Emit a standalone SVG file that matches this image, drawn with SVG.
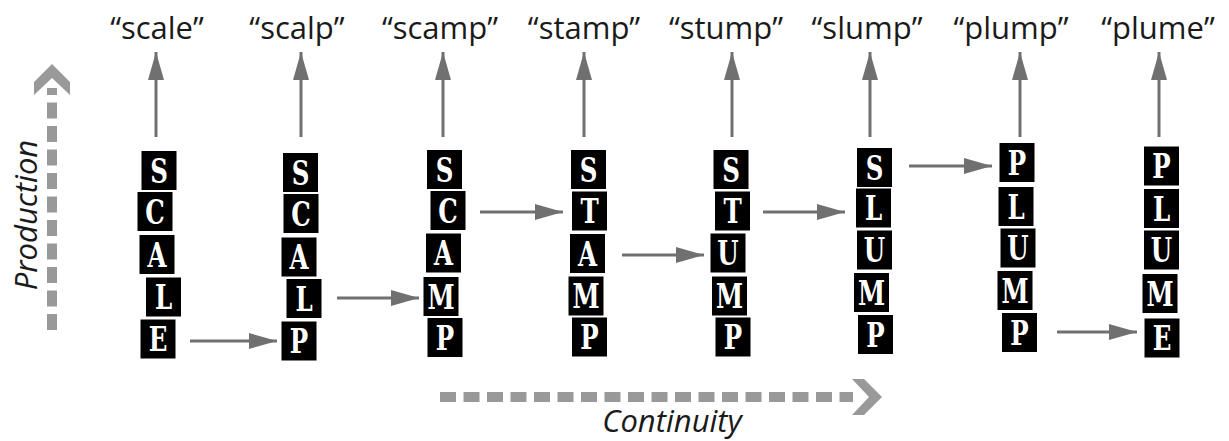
<svg xmlns="http://www.w3.org/2000/svg" width="1229" height="441" viewBox="0 0 1229 441">
  <style>
    .word { font-family: "Open Sans", "Noto Sans", sans-serif; font-size: 31px; fill: #1a1a1a; text-anchor: middle; }
    .axis { font-family: "Open Sans", "Noto Sans", sans-serif; font-size: 31px; font-style: italic; fill: #1a1a1a; text-anchor: middle; }
    .tile use { fill: #000; stroke: #fff; stroke-width: 1; }
    .tile text { font-family: "DejaVu Serif", "Liberation Serif", serif; font-weight: bold; font-size: 34px; fill: #fff; text-anchor: middle; }
    .link { stroke: #707070; stroke-width: 3; fill: none; }
    .head { fill: #707070; }
    .dash { stroke: #999; stroke-width: 10; fill: none; stroke-dasharray: 16 7.5; }
    .chev { fill: #999; }
  </style>
  <defs>
    <!-- one lettered tile: black square with a condensed bold slab capital -->
    <rect id="sq" x="-18" y="-20" width="36" height="40"/>
    <marker id="tip" viewBox="0 0 28 16" refX="28" refY="8" markerWidth="28" markerHeight="16" markerUnits="userSpaceOnUse" orient="auto">
      <path class="head" d="M0,0 L28,8 L0,16 Z"/>
    </marker>
  </defs>

  <!-- axes -->
  <g id="production-axis">
    <line class="dash" x1="52" y1="330" x2="52" y2="88"/>
    <polygon class="chev" points="52,64 70,82 70,95 52,78 34,95 34,82"/>
    <text class="axis" transform="translate(37,215) rotate(-90)">Production</text>
  </g>
  <g id="continuity-axis">
    <line class="dash" x1="440" y1="397" x2="853" y2="397"/>
    <polygon class="chev" points="882,397 864,415 852,415 869,397 852,379 864,379"/>
    <text class="axis" x="672" y="432">Continuity</text>
  </g>

  <!-- word labels -->
  <g id="labels">
    <text class="word" x="157" y="39">“scale”</text>
    <text class="word" x="297" y="39">“scalp”</text>
    <text class="word" x="440" y="39">“scamp”</text>
    <text class="word" x="584" y="39">“stamp”</text>
    <text class="word" x="726" y="39">“stump”</text>
    <text class="word" x="867" y="39">“slump”</text>
    <text class="word" x="1011" y="39">“plump”</text>
    <text class="word" x="1158" y="39">“plume”</text>
  </g>

  <!-- connectors -->
  <g id="connectors" marker-end="url(#tip)">
    <line class="link" x1="156" y1="137" x2="156" y2="52"/>
    <line class="link" x1="301" y1="137" x2="301" y2="52"/>
    <line class="link" x1="443" y1="137" x2="443" y2="52"/>
    <line class="link" x1="584" y1="137" x2="584" y2="52"/>
    <line class="link" x1="732" y1="137" x2="732" y2="52"/>
    <line class="link" x1="870" y1="137" x2="870" y2="52"/>
    <line class="link" x1="1020" y1="137" x2="1020" y2="52" stroke-width="4"/>
    <line class="link" x1="1159" y1="137" x2="1159" y2="52"/>

    <line class="link" x1="190" y1="341" x2="277" y2="341"/>
    <line class="link" x1="337" y1="298" x2="419" y2="298"/>
    <line class="link" x1="480" y1="212" x2="563" y2="212"/>
    <line class="link" x1="622" y1="255" x2="704" y2="255"/>
    <line class="link" x1="763" y1="212" x2="845" y2="212"/>
    <line class="link" x1="909" y1="166" x2="992" y2="166"/>
    <line class="link" x1="1057" y1="332" x2="1137" y2="332"/>
  </g>

  <!-- SCALE -->
  <g id="scale" class="tile">
    <g transform="translate(159,170.5)"><use href="#sq"/><text transform="scale(0.72,1)" y="12">S</text></g>
    <g transform="translate(155,211.5)"><use href="#sq"/><text transform="scale(0.72,1)" y="12">C</text></g>
    <g transform="translate(157,254.5)"><use href="#sq"/><text transform="scale(0.72,1)" y="12">A</text></g>
    <g transform="translate(163.5,297)"><use href="#sq"/><text transform="scale(0.72,1)" y="12">L</text></g>
    <g transform="translate(158,339)"><use href="#sq"/><text transform="scale(0.72,1)" y="12">E</text></g>
  </g>
  <!-- SCALP -->
  <g id="scalp" class="tile">
    <g transform="translate(300.5,172.5)"><use href="#sq"/><text transform="scale(0.72,1)" y="12">S</text></g>
    <g transform="translate(301,213.5)"><use href="#sq"/><text transform="scale(0.72,1)" y="12">C</text></g>
    <g transform="translate(299,257)"><use href="#sq"/><text transform="scale(0.72,1)" y="12">A</text></g>
    <g transform="translate(304,298.5)"><use href="#sq"/><text transform="scale(0.72,1)" y="12">L</text></g>
    <g transform="translate(299,341)"><use href="#sq"/><text transform="scale(0.72,1)" y="12">P</text></g>
  </g>
  <!-- SCAMP -->
  <g id="scamp" class="tile">
    <g transform="translate(444.5,169.5)"><use href="#sq"/><text transform="scale(0.72,1)" y="12">S</text></g>
    <g transform="translate(448,210.5)"><use href="#sq"/><text transform="scale(0.72,1)" y="12">C</text></g>
    <g transform="translate(443.5,253)"><use href="#sq"/><text transform="scale(0.72,1)" y="12">A</text></g>
    <g transform="translate(441,296.5)"><use href="#sq"/><text transform="scale(0.72,1)" y="12">M</text></g>
    <g transform="translate(445,337.5)"><use href="#sq"/><text transform="scale(0.72,1)" y="12">P</text></g>
  </g>
  <!-- STAMP -->
  <g id="stamp" class="tile">
    <g transform="translate(588.5,169.5)"><use href="#sq"/><text transform="scale(0.72,1)" y="12">S</text></g>
    <g transform="translate(589.5,211)"><use href="#sq"/><text transform="scale(0.72,1)" y="12">T</text></g>
    <g transform="translate(587.5,253.5)"><use href="#sq"/><text transform="scale(0.72,1)" y="12">A</text></g>
    <g transform="translate(586,296)"><use href="#sq"/><text transform="scale(0.72,1)" y="12">M</text></g>
    <g transform="translate(589.5,337)"><use href="#sq"/><text transform="scale(0.72,1)" y="12">P</text></g>
  </g>
  <!-- STUMP -->
  <g id="stump" class="tile">
    <g transform="translate(731,169.5)"><use href="#sq"/><text transform="scale(0.72,1)" y="12">S</text></g>
    <g transform="translate(732.5,211)"><use href="#sq"/><text transform="scale(0.72,1)" y="12">T</text></g>
    <g transform="translate(728,253)"><use href="#sq"/><text transform="scale(0.72,1)" y="12">U</text></g>
    <g transform="translate(729.5,296)"><use href="#sq"/><text transform="scale(0.72,1)" y="12">M</text></g>
    <g transform="translate(733,337)"><use href="#sq"/><text transform="scale(0.72,1)" y="12">P</text></g>
  </g>
  <!-- SLUMP -->
  <g id="slump" class="tile">
    <g transform="translate(874.5,167.5)"><use href="#sq"/><text transform="scale(0.72,1)" y="12">S</text></g>
    <g transform="translate(873.5,208)"><use href="#sq"/><text transform="scale(0.72,1)" y="12">L</text></g>
    <g transform="translate(874.5,250)"><use href="#sq"/><text transform="scale(0.72,1)" y="12">U</text></g>
    <g transform="translate(871.5,292.5)"><use href="#sq"/><text transform="scale(0.72,1)" y="12">M</text></g>
    <g transform="translate(875.5,334.5)"><use href="#sq"/><text transform="scale(0.72,1)" y="12">P</text></g>
  </g>
  <!-- PLUMP -->
  <g id="plump" class="tile">
    <g transform="translate(1017,162.5)"><use href="#sq"/><text transform="scale(0.72,1)" y="12">P</text></g>
    <g transform="translate(1016,206.5)"><use href="#sq"/><text transform="scale(0.72,1)" y="12">L</text></g>
    <g transform="translate(1018,248)"><use href="#sq"/><text transform="scale(0.72,1)" y="12">U</text></g>
    <g transform="translate(1015,290.5)"><use href="#sq"/><text transform="scale(0.72,1)" y="12">M</text></g>
    <g transform="translate(1019.5,332.5)"><use href="#sq"/><text transform="scale(0.72,1)" y="12">P</text></g>
  </g>
  <!-- PLUME -->
  <g id="plume" class="tile">
    <g transform="translate(1161.5,166)"><use href="#sq"/><text transform="scale(0.72,1)" y="12">P</text></g>
    <g transform="translate(1161.5,208.5)"><use href="#sq"/><text transform="scale(0.72,1)" y="12">L</text></g>
    <g transform="translate(1161.5,250)"><use href="#sq"/><text transform="scale(0.72,1)" y="12">U</text></g>
    <g transform="translate(1160,293.5)"><use href="#sq"/><text transform="scale(0.72,1)" y="12">M</text></g>
    <g transform="translate(1162,338)"><use href="#sq"/><text transform="scale(0.72,1)" y="12">E</text></g>
  </g>
</svg>
